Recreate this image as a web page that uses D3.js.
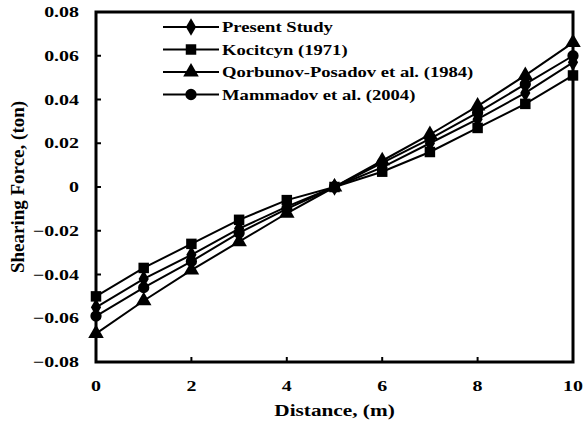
<!DOCTYPE html>
<html lang="en">
<head>
<meta charset="UTF-8" />
<script src="https://d3js.org/d3.v7.min.js"></script>
<style>
  body { margin: 0; background: #fff; }
  text { font-family: "Liberation Serif", "Times New Roman", serif; font-weight: bold; fill: #000; }
</style>
</head>
<body>
<script>
// distance along the beam (m)
var distance = [0, 1, 2, 3, 4, 5, 6, 7, 8, 9, 10];

// shearing force (ton)
var presentStudy = [-0.055, -0.042, -0.031, -0.019, -0.009, 0, 0.009, 0.020, 0.031, 0.043, 0.057];
var kocitcyn     = [-0.050, -0.037, -0.026, -0.015, -0.006, 0, 0.007, 0.016, 0.027, 0.038, 0.051];
var qorbunov     = [-0.067, -0.052, -0.038, -0.025, -0.012, 0, 0.012, 0.024, 0.037, 0.051, 0.066];
var mammadov     = [-0.059, -0.046, -0.034, -0.021, -0.010, 0, 0.011, 0.022, 0.034, 0.047, 0.060];

var seriesNames = ["Present Study", "Kocitcyn (1971)", "Qorbunov-Posadov et al. (1984)", "Mammadov et al. (2004)"];
var seriesValues = [presentStudy, kocitcyn, qorbunov, mammadov];
var seriesSymbols = [d3.symbolDiamond, d3.symbolSquare, d3.symbolTriangle, d3.symbolCircle];
var symbolSizes = [90, 110, 105, 100];

var xTicks = [0, 2, 4, 6, 8, 10];
var yTicks = [-0.08, -0.06, -0.04, -0.02, 0, 0.02, 0.04, 0.06, 0.08];

var width = 586, height = 426;
var margin = { left: 96, right: 13, top: 12, bottom: 64 };
var sx = 1.33; // the picture is stretched sideways

var svg = d3.select("body").append("svg")
    .attr("width", width)
    .attr("height", height);

var x = d3.scaleLinear().domain([0, 10]).range([margin.left, width - margin.right]);
var y = d3.scaleLinear().domain([-0.08, 0.08]).range([height - margin.bottom, margin.top]);

// tick marks point inward
svg.selectAll("line.ytick").data(yTicks.slice(1, -1)).enter().append("line")
    .attr("x1", x(0)).attr("x2", x(0) + 5)
    .attr("y1", d => y(d)).attr("y2", d => y(d))
    .attr("stroke", "#000").attr("stroke-width", 2);
svg.selectAll("line.xtick").data(xTicks.slice(1, -1)).enter().append("line")
    .attr("x1", d => x(d)).attr("x2", d => x(d))
    .attr("y1", y(-0.08)).attr("y2", y(-0.08) - 5)
    .attr("stroke", "#000").attr("stroke-width", 2);

// tick labels
svg.selectAll("text.ylab").data(yTicks).enter().append("text")
    .attr("text-anchor", "end")
    .attr("font-size", 15)
    .attr("transform", d => "translate(79," + (y(d) + 5) + ") scale(" + sx + ",1)")
    .text(d => d === 0 ? "0" : d3.format(".2f")(d));

svg.selectAll("text.xlab").data(xTicks).enter().append("text")
    .attr("text-anchor", "middle")
    .attr("font-size", 15)
    .attr("transform", d => "translate(" + x(d) + ",391) scale(" + sx + ",1)")
    .text(d => d);

// axis titles
svg.append("text")
    .attr("text-anchor", "middle")
    .attr("font-size", 16)
    .attr("transform", "translate(" + ((x(0) + x(10)) / 2) + ",416) scale(" + sx + ",1)")
    .text("Distance, (m)");

svg.append("text")
    .attr("text-anchor", "middle")
    .attr("font-size", 19)
    .attr("transform", "translate(24," + ((y(0.08) + y(-0.08)) / 2) + ") rotate(-90)")
    .text("Shearing Force, (ton)");

// series lines and markers
var line = d3.line()
    .x((d, i) => x(distance[i]))
    .y(d => y(d));

seriesValues.forEach(function (vals, s) {
    svg.append("path")
        .attr("d", line(vals))
        .attr("fill", "none")
        .attr("stroke", "#000")
        .attr("stroke-width", 2);
    svg.selectAll("path.m" + s).data(vals).enter().append("path")
        .attr("d", d3.symbol().type(seriesSymbols[s]).size(symbolSizes[s]))
        .attr("transform", (d, i) => "translate(" + x(distance[i]) + "," + y(d) + ")")
        .attr("fill", "#000");
});

// frame
svg.append("rect")
    .attr("x", x(0)).attr("y", y(0.08))
    .attr("width", x(10) - x(0)).attr("height", y(-0.08) - y(0.08))
    .attr("fill", "none").attr("stroke", "#000").attr("stroke-width", 3);

// legend
var legend = svg.append("g");
seriesNames.forEach(function (name, s) {
    var ly = 27 + s * 22.5;
    legend.append("line")
        .attr("x1", 163).attr("x2", 219).attr("y1", ly).attr("y2", ly)
        .attr("stroke", "#000").attr("stroke-width", 2);
    legend.append("path")
        .attr("d", d3.symbol().type(seriesSymbols[s]).size(symbolSizes[s]))
        .attr("transform", "translate(191," + ly + ")")
        .attr("fill", "#000");
    legend.append("text")
        .attr("font-size", 14)
        .attr("transform", "translate(222," + (ly + 5) + ") scale(" + sx + ",1)")
        .text(name);
});
</script>
</body>
</html>
